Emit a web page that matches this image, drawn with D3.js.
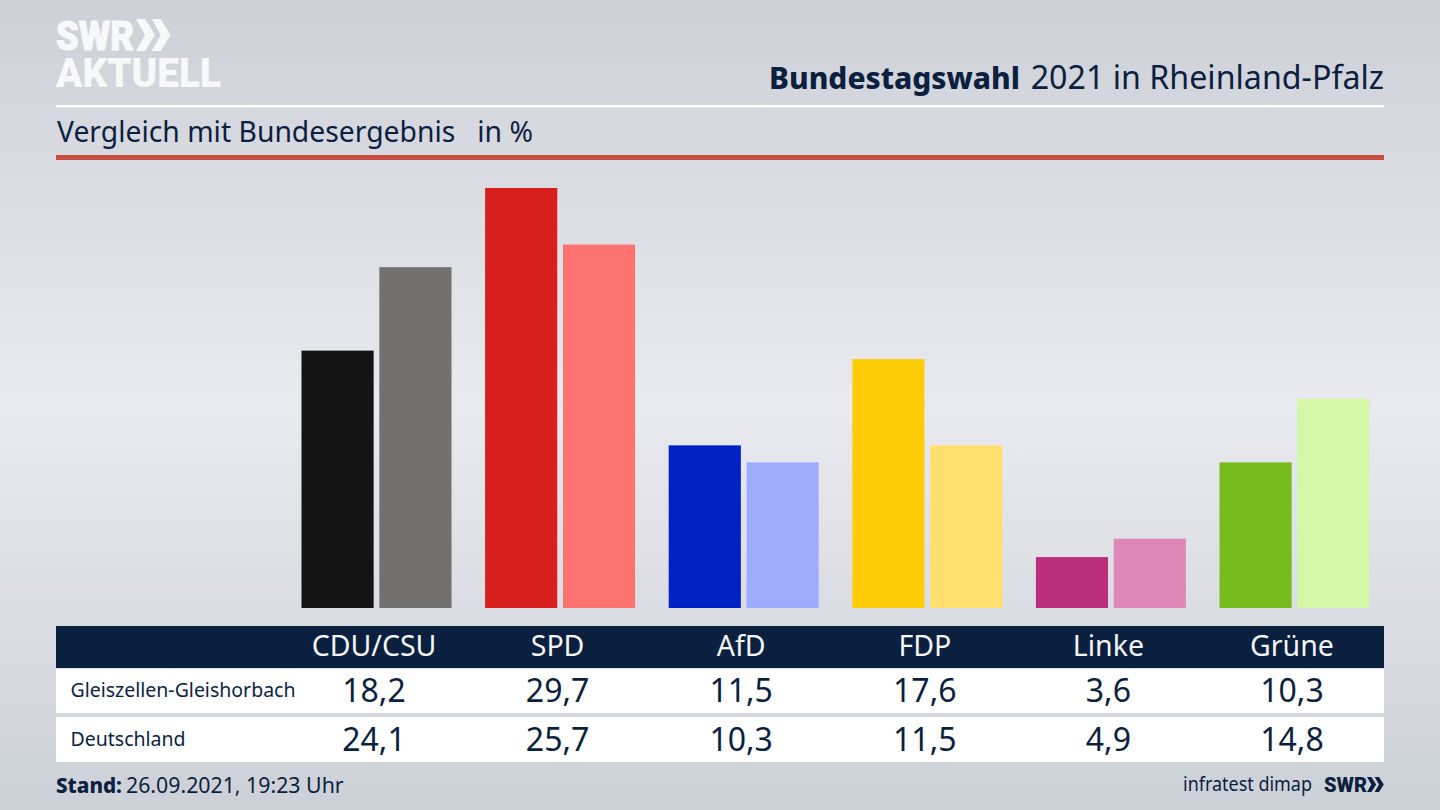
<!DOCTYPE html>
<html>
<head>
<meta charset="utf-8">
<script src="https://cdn.jsdelivr.net/npm/d3@7"></script>
<style>
  html, body { margin: 0; padding: 0; overflow: hidden; background: #dfe1e6; }
  text { font-family: "Noto Sans", sans-serif; fill: #0b1f3f; }
</style>
</head>
<body>
<div id="chart"></div>
<script>
// Werte aus dem Bild
var parties = ["CDU/CSU", "SPD", "AfD", "FDP", "Linke", "Grüne"];
var regionNames = ["Gleiszellen-Gleishorbach", "Deutschland"];
var gemeindeValues = [18.2, 29.7, 11.5, 17.6, 3.6, 10.3];
var bundValues = [24.1, 25.7, 10.3, 11.5, 4.9, 14.8];

var width = 1440, height = 810;
var navy = "#0b1f3f";

var svg = d3.select("#chart").append("svg")
    .attr("width", width)
    .attr("height", height)
    .style("display", "block");

// Hintergrund
var bg = svg.append("defs").append("linearGradient")
    .attr("id", "bg")
    .attr("x1", 0).attr("y1", 0).attr("x2", 0).attr("y2", 1);
bg.append("stop").attr("offset", "0%").attr("stop-color", "#cdd0d7");
bg.append("stop").attr("offset", "50%").attr("stop-color", "#e9eaef");
bg.append("stop").attr("offset", "100%").attr("stop-color", "#ccd0d7");
svg.append("rect").attr("width", width).attr("height", height).attr("fill", "url(#bg)");

// Skalen
var xGroup = d3.scaleBand().domain(parties).range([301.5, 1369.5]).paddingInner(0.183).paddingOuter(0);
var xSeries = d3.scaleBand().domain([0, 1]).range([0, xGroup.bandwidth()]).paddingInner(0.073);
var y = d3.scaleLinear().domain([0, 29.7]).range([608, 188]);

var colorsGemeinde = d3.scaleOrdinal().domain(parties)
    .range(["#141414", "#d7201e", "#0022c4", "#ffcc08", "#bb2e7b", "#78bb1c"]);
var colorsBund = d3.scaleOrdinal().domain(parties)
    .range(["#72716f", "#fe7370", "#9eacff", "#ffe06f", "#df88b8", "#d3f6a7"]);

// Balken
var groups = svg.selectAll("g.party")
    .data(parties)
  .enter().append("g")
    .attr("class", "party")
    .attr("transform", function (d) { return "translate(" + xGroup(d) + ",0)"; });

groups.append("rect")
    .attr("x", xSeries(0))
    .attr("y", function (d, i) { return y(gemeindeValues[i]); })
    .attr("width", xSeries.bandwidth())
    .attr("height", function (d, i) { return y(0) - y(gemeindeValues[i]); })
    .attr("fill", function (d) { return colorsGemeinde(d); });

groups.append("rect")
    .attr("x", xSeries(1))
    .attr("y", function (d, i) { return y(bundValues[i]); })
    .attr("width", xSeries.bandwidth())
    .attr("height", function (d, i) { return y(0) - y(bundValues[i]); })
    .attr("fill", function (d) { return colorsBund(d); });

// Kopfbereich
svg.append("rect").attr("x", 56).attr("y", 105).attr("width", 1328).attr("height", 2.5).attr("fill", "#fff");
svg.append("rect").attr("x", 56).attr("y", 155).attr("width", 1328).attr("height", 5).attr("fill", "#c94f3f");

svg.append("text")
    .attr("x", 769).attr("y", 89)
    .attr("textLength", 251).attr("lengthAdjust", "spacingAndGlyphs")
    .style("font-weight", 800)
    .style("font-size", "31px")
    .text("Bundestagswahl");
svg.append("text")
    .attr("x", 1384).attr("y", 89)
    .attr("text-anchor", "end")
    .style("font-size", "32.2px")
    .text("2021 in Rheinland-Pfalz");

svg.append("text")
    .attr("x", 57).attr("y", 142)
    .style("font-size", "28.3px")
    .style("white-space", "pre")
    .text("Vergleich mit Bundesergebnis   in %");

// Logo oben links
svg.append("text")
    .attr("x", 56).attr("y", 50)
    .attr("textLength", 78).attr("lengthAdjust", "spacingAndGlyphs")
    .style("font-family", "Roboto, sans-serif")
    .style("font-weight", 900)
    .style("font-size", "41px")
    .style("fill", "#f7f8f9")
    .style("stroke", "#f7f8f9")
    .style("stroke-width", 1)
    .text("SWR");
svg.append("text")
    .attr("x", 56).attr("y", 87)
    .attr("textLength", 165).attr("lengthAdjust", "spacingAndGlyphs")
    .style("font-family", "Roboto, sans-serif")
    .style("font-weight", 900)
    .style("font-size", "41px")
    .style("fill", "#f7f8f9")
    .text("AKTUELL");

function chevrons(x0, y0, h, w, fill) {
    [0, 1].forEach(function (k) {
        var x = x0 + k * w * 0.95;
        svg.append("path")
            .attr("d", d3.line()([
                [x, y0], [x + w * 0.55, y0], [x + w * 1.15, y0 + h / 2],
                [x + w * 0.55, y0 + h], [x, y0 + h], [x + w * 0.55, y0 + h / 2]
            ]) + "Z")
            .attr("fill", fill);
    });
}
chevrons(136, 19, 32, 16.5, "#f7f8f9");

// Tabelle
var rowTop = [669, 717];
var rowHeight = [44, 45];
var rowBase = [702, 751];
var labelX = function (d) { return xGroup(d) + xGroup.bandwidth() / 2 - 2.5; };

svg.append("rect").attr("x", 56).attr("y", 626).attr("width", 1328).attr("height", 42).attr("fill", navy);

svg.selectAll("text.head")
    .data(parties)
  .enter().append("text")
    .attr("class", "head")
    .attr("x", labelX)
    .attr("y", 656)
    .attr("text-anchor", "middle")
    .style("font-size", "28.5px")
    .style("fill", "#f4f5f6")
    .text(function (d) { return d; });

[gemeindeValues, bundValues].forEach(function (vals, r) {
    svg.append("rect")
        .attr("x", 56).attr("y", rowTop[r])
        .attr("width", 1328).attr("height", rowHeight[r])
        .attr("fill", "#fff");

    svg.append("text")
        .attr("x", 70.5).attr("y", rowBase[r] - 5)
        .style("font-size", "19.5px")
        .text(regionNames[r]);

    svg.selectAll("text.val" + r)
        .data(parties)
      .enter().append("text")
        .attr("class", "val" + r)
        .attr("x", labelX)
        .attr("y", rowBase[r])
        .attr("text-anchor", "middle")
        .style("font-size", "32px")
        .text(function (d, i) { return String(vals[i].toFixed(1)).replace(".", ","); });
});

// Fusszeile
svg.append("text")
    .attr("x", 56).attr("y", 793)
    .attr("textLength", 66).attr("lengthAdjust", "spacingAndGlyphs")
    .style("font-weight", 800)
    .style("font-size", "22px")
    .text("Stand:");
svg.append("text")
    .attr("x", 126).attr("y", 793)
    .style("font-size", "21.3px")
    .text("26.09.2021, 19:23 Uhr");

svg.append("text")
    .attr("x", 1183).attr("y", 791)
    .attr("textLength", 129).attr("lengthAdjust", "spacingAndGlyphs")
    .style("font-size", "19.5px")
    .text("infratest dimap");
svg.append("text")
    .attr("x", 1324).attr("y", 792)
    .attr("textLength", 43).attr("lengthAdjust", "spacingAndGlyphs")
    .style("font-family", "Roboto, sans-serif")
    .style("font-weight", 900)
    .style("font-size", "21px")
    .text("SWR");
chevrons(1367, 777, 15, 8, navy);
</script>
</body>
</html>
